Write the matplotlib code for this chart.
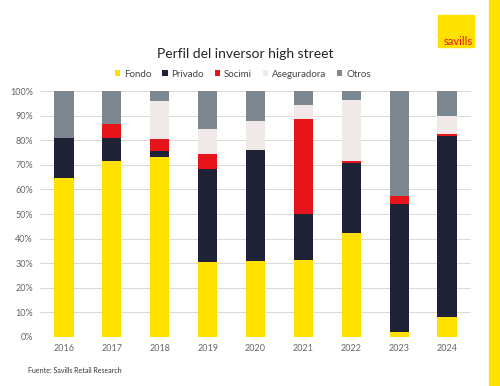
import matplotlib
matplotlib.use('Agg')
import matplotlib.pyplot as plt
from matplotlib.patches import Rectangle
import numpy as np

# ===============================================
# data (shares in %)
# ===============================================
years = ['2016', '2017', '2018', '2019', '2020', '2021', '2022', '2023', '2024']
fondo = [64.5, 71.6, 73.2, 30.4, 30.7, 31.4, 42.4, 2.0, 8.3]
privado = [16.4, 9.3, 2.4, 37.8, 45.5, 18.8, 28.2, 52.1, 73.6]
socimi = [0.0, 5.8, 4.8, 6.2, 0.0, 38.3, 0.8, 3.4, 0.8]
aseguradora = [0.0, 0.0, 15.7, 10.2, 11.6, 5.8, 24.8, 0.0, 7.2]
otros = [19.1, 13.3, 3.9, 15.4, 12.2, 5.7, 3.8, 42.5, 10.1]

labels = ['Fondo', 'Privado', 'Socimi', 'Aseguradora', 'Otros']
colors = ['#FFE100', '#1F2136', '#E8141C', '#F1E9E7', '#7B8791']

plt.rcParams['font.family'] = ['Lato', 'DejaVu Sans']

fig = plt.figure(figsize=(5, 3.86), dpi=100)
ax = fig.add_axes([0.08, 0.127, 0.862, 0.637])

x = np.arange(len(years))
bottom = np.zeros(len(years))
for vals, lab, col in zip([fondo, privado, socimi, aseguradora, otros], labels, colors):
    vals = np.array(vals)
    ax.bar(x, vals, 0.4, bottom=bottom, color=col, label=lab, zorder=3)
    bottom += vals

ax.set_xlim(-0.5, len(years) - 0.5)
ax.set_ylim(0, 100)
ax.set_yticks(np.arange(0, 101, 10))
ax.set_yticklabels(['%d%%' % v for v in range(0, 101, 10)])
ax.set_xticks(x)
ax.set_xticklabels(years)
ax.tick_params(length=0, labelsize=6.5, colors='#666666', pad=5)
ax.grid(axis='y', color='#D9D9D9', linewidth=0.7, zorder=0)
for s in ax.spines.values():
    s.set_visible(False)

fig.text(0.49, 0.86, 'Perfil del inversor high street', ha='center', va='center',
         fontsize=10, color='#222222')
fig.legend(loc='center', bbox_to_anchor=(0.486, 0.808), ncol=5, frameon=False,
           fontsize=7, handlelength=0.55, handleheight=0.55, handletextpad=0.4,
           columnspacing=1.1, labelcolor='#444444')

fig.text(0.056, 0.039, 'Fuente: Savills Retail Research', ha='left', va='center',
         fontsize=5, color='#333333')

# right stripe and logo
fig.patches.append(Rectangle((0.978, 0), 0.022, 1, transform=fig.transFigure,
                             color='#FFE100', zorder=0))
fig.patches.append(Rectangle((0.876, 0.878), 0.072, 0.083, transform=fig.transFigure,
                             color='#FFE100', zorder=0))
fig.text(0.916, 0.893, 'savills', ha='center', va='center', fontsize=8,
         color='#E8141C')

fig.savefig('out.png', dpi=100)
